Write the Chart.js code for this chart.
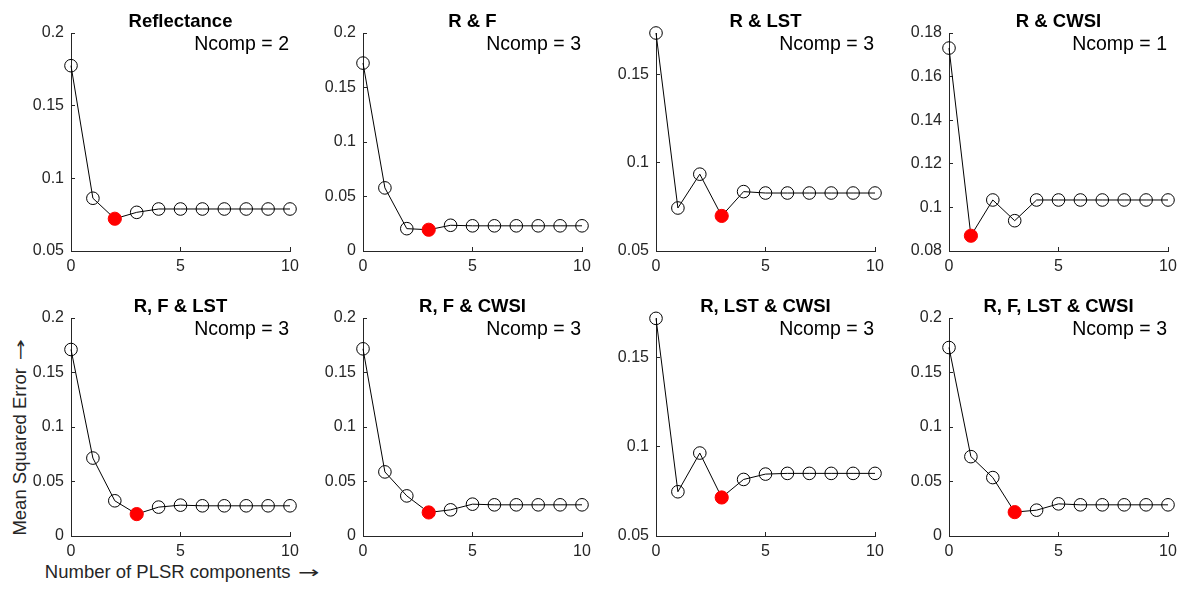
<!DOCTYPE html>
<html>
<head>
	<meta charset="utf-8">
	<title>PLSR components</title>
	<script src="https://cdn.jsdelivr.net/npm/chart.js@4.4.0/dist/chart.umd.min.js"></script>
	<style>
		body { margin: 0; background: #fff; font-family: "Liberation Sans", Arial, sans-serif; }
		#fig { position: relative; width: 1182px; height: 592px; overflow: hidden; }
		#fig canvas { position: absolute; }
		.ttl { position: absolute; text-align: center; font-weight: bold; font-size: 18.5px; line-height: 20px; color: #000; white-space: nowrap; }
		.nc { position: absolute; text-align: right; font-size: 19.5px; line-height: 22px; color: #000; white-space: nowrap; }
		.lbl { position: absolute; text-align: center; font-size: 18.5px; line-height: 20px; color: #262626; white-space: nowrap; }
		.arr { display: inline-block; font-family: "DejaVu Sans", sans-serif; font-size: 16px; transform: scaleX(1.6); margin-left: 6px; }
	</style>
</head>
<body>
<div id="fig">
	<div class="lbl" style="left:-130px; top:429px; width:300px; transform:rotate(-90deg);">Mean Squared Error <span class="arr">&rarr;</span></div>
	<div class="lbl" style="left:30px; top:562px; width:300px;">Number of PLSR components <span class="arr">&rarr;</span></div>
</div>

<script>
	// number of PLSR components on the x axis
	const comps = [0, 1, 2, 3, 4, 5, 6, 7, 8, 9, 10];

	const titles = ["Reflectance", "R & F", "R & LST", "R & CWSI",
		"R, F & LST", "R, F & CWSI", "R, LST & CWSI", "R, F, LST & CWSI"];
	const ncomp = [2, 3, 3, 1, 3, 3, 3, 3];

	// mean squared error per number of components
	const mseRefl     = [0.1775, 0.0863, 0.0722, 0.0766, 0.0789, 0.0789, 0.0789, 0.0789, 0.0789, 0.0789, 0.0789];
	const mseRF       = [0.1724, 0.0579, 0.0205, 0.0195, 0.0236, 0.0231, 0.0231, 0.0231, 0.0231, 0.0231, 0.0231];
	const mseRLST     = [0.1737, 0.0744, 0.0936, 0.0699, 0.0837, 0.0829, 0.0829, 0.0829, 0.0829, 0.0829, 0.0829];
	const mseRCWSI    = [0.1731, 0.0870, 0.1034, 0.0939, 0.1034, 0.1034, 0.1034, 0.1034, 0.1034, 0.1034, 0.1034];
	const mseRFLST    = [0.1711, 0.0715, 0.0323, 0.0201, 0.0265, 0.0283, 0.0277, 0.0277, 0.0277, 0.0277, 0.0277];
	const mseRFCWSI   = [0.1717, 0.0588, 0.0368, 0.0216, 0.0240, 0.0292, 0.0286, 0.0286, 0.0286, 0.0286, 0.0286];
	const mseRLSTCWSI = [0.1720, 0.0748, 0.0965, 0.0716, 0.0817, 0.0847, 0.0851, 0.0851, 0.0851, 0.0851, 0.0851];
	const mseAll      = [0.1729, 0.0728, 0.0536, 0.0219, 0.0237, 0.0295, 0.0286, 0.0286, 0.0286, 0.0286, 0.0286];
	const series = [mseRefl, mseRF, mseRLST, mseRCWSI, mseRFLST, mseRFCWSI, mseRLSTCWSI, mseAll];

	// y axis limits and tick steps
	const yMin  = [0.05, 0, 0.05, 0.08, 0, 0, 0.05, 0];
	const yMax  = [0.2, 0.2, 0.1737, 0.18, 0.2, 0.2, 0.1722, 0.2];
	const yStep = [0.05, 0.05, 0.05, 0.02, 0.05, 0.05, 0.05, 0.05];

	// layout of the plot boxes
	const colX = [71, 363, 656, 949];
	const rowY = [33, 318];
	const plotW = 219, plotH = 218;
	const padL = 60, padT = 12, padR = 16, padB = 30;

	const fontFam = '"Liberation Sans", Arial, sans-serif';
	const axisCol = '#262626';
	const fig = document.getElementById('fig');

	series.forEach((vals, i) => {
		const x0 = colX[i % 4], y0 = rowY[Math.floor(i / 4)];

		const cv = document.createElement('canvas');
		cv.width = padL + plotW + padR;
		cv.height = padT + plotH + padB;
		cv.style.left = (x0 - padL) + 'px';
		cv.style.top = (y0 - padT) + 'px';
		fig.appendChild(cv);

		const t = document.createElement('div');
		t.className = 'ttl';
		t.style.left = x0 + 'px';
		t.style.width = plotW + 'px';
		t.style.top = (y0 - 22) + 'px';
		t.textContent = titles[i];
		fig.appendChild(t);

		const n = document.createElement('div');
		n.className = 'nc';
		n.style.left = (x0 - 20) + 'px';
		n.style.width = (plotW - 1 + 20) + 'px';
		n.style.top = (y0 - 1) + 'px';
		n.textContent = 'Ncomp = ' + ncomp[i];
		fig.appendChild(n);

		const pts = comps.map((c, j) => ({ x: c, y: vals[j] }));
		const best = ncomp[i];

		new Chart(cv.getContext('2d'), {
			type: 'line',
			data: {
				datasets: [{
					data: pts,
					borderColor: '#000',
					borderWidth: 1,
					tension: 0,
					clip: false,
					pointRadius: pts.map((p, j) => j === best ? 6.6 : 6.3),
					pointHoverRadius: 6.3,
					pointBorderWidth: 1,
					pointBorderColor: pts.map((p, j) => j === best ? '#ff0000' : '#000'),
					pointBackgroundColor: pts.map((p, j) => j === best ? '#ff0000' : 'rgba(0,0,0,0)')
				}]
			},
			options: {
				responsive: false,
				animation: false,
				events: [],
				layout: { padding: { top: padT, right: padR, left: 0, bottom: 0 } },
				plugins: { legend: { display: false }, tooltip: { enabled: false } },
				scales: {
					x: {
						type: 'linear',
						min: 0,
						max: 10,
						afterFit: s => { s.height = padB; s.paddingLeft = 0; s.paddingRight = 0; },
						border: { color: axisCol, width: 1 },
						grid: { drawOnChartArea: false, tickLength: -4, color: axisCol },
						ticks: {
							stepSize: 5, padding: 10, maxRotation: 0, color: axisCol,
							font: { size: 16, family: fontFam },
							callback: v => String(v)
						}
					},
					y: {
						min: yMin[i],
						max: yMax[i],
						afterFit: s => { s.width = padL; s.paddingTop = 0; s.paddingBottom = 0; },
						border: { color: axisCol, width: 1 },
						grid: { drawOnChartArea: false, tickLength: -4, color: axisCol },
						ticks: {
							stepSize: yStep[i], includeBounds: false, padding: 11, color: axisCol,
							font: { size: 16, family: fontFam },
							callback: v => String(parseFloat(v.toFixed(3)))
						}
					}
				}
			}
		});
	});
</script>
</body>
</html>
